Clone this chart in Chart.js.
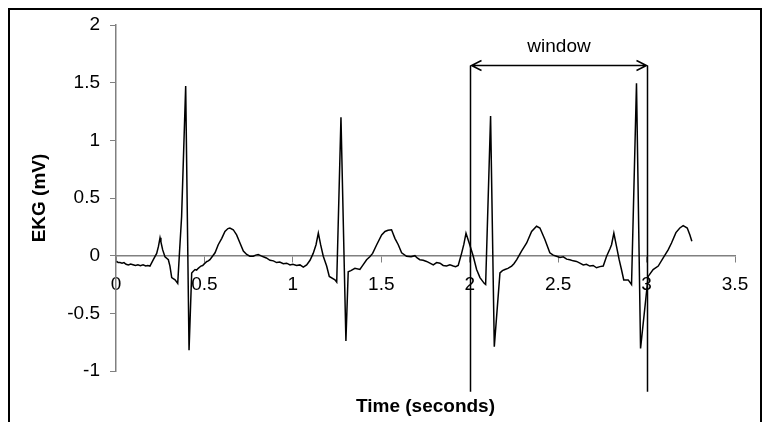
<!DOCTYPE html>
<html>
<head>
<meta charset="utf-8">
<script src="https://cdn.jsdelivr.net/npm/chart.js@4"></script>
<style>
  html, body { margin: 0; padding: 0; background: #fff; }
  #wrap { width: 763px; height: 422px; position: relative; }
</style>
</head>
<body>
<div id="wrap"><canvas id="ekgChart"></canvas></div>
<script>
// EKG trace, time in seconds / amplitude in mV (one line per segment of the beat)
const timeSec = [
  0.004, 0.012, 0.023, 0.034, 0.045, 0.057, 0.07, 0.083, 0.096, 0.11, 0.124, 0.138, 0.153, 0.168, 0.18, 0.192,
  0.211, 0.23, 0.24, 0.249, 0.254, 0.264, 0.277, 0.296, 0.305, 0.315, 0.334, 0.349, 0.358, 0.371, 0.394, 0.413,
  0.428, 0.437, 0.447, 0.456, 0.465, 0.472, 0.48, 0.49, 0.503, 0.514, 0.522, 0.531, 0.56, 0.578, 0.598, 0.616, 0.633, 0.644, 0.663, 0.682, 0.701, 0.72, 0.739, 0.757, 0.776, 0.79,
  0.804, 0.818, 0.833, 0.85, 0.871, 0.89, 0.908, 0.926, 0.946, 0.965, 0.984, 1.0, 1.021, 1.04, 1.059,
  1.078, 1.097, 1.115, 1.131, 1.144, 1.157, 1.172, 1.191, 1.206, 1.238, 1.248, 1.272, 1.3,
  1.313, 1.328, 1.351, 1.379, 1.397, 1.417, 1.435, 1.451, 1.474, 1.502, 1.521, 1.538, 1.558, 1.577, 1.596, 1.615, 1.643, 1.668,
  1.69, 1.703, 1.718, 1.737, 1.756, 1.775, 1.794, 1.813, 1.832, 1.85, 1.869, 1.888, 1.907, 1.92, 1.935,
  1.954, 1.967, 1.979, 1.997, 2.02, 2.039, 2.058, 2.082, 2.09, 2.118, 2.139,
  2.171, 2.185, 2.199, 2.216, 2.237, 2.25, 2.266, 2.293, 2.322, 2.35, 2.378, 2.397, 2.425, 2.453, 2.472,
  2.491, 2.51, 2.529, 2.548, 2.566, 2.585, 2.604, 2.623, 2.642, 2.66, 2.679, 2.698, 2.717, 2.736, 2.755,
  2.774, 2.793, 2.802, 2.815, 2.83, 2.845, 2.858, 2.871, 2.896, 2.915, 2.943, 2.966,
  3.009, 3.037, 3.066, 3.094, 3.122, 3.141, 3.166, 3.188, 3.207, 3.23, 3.245, 3.256
];
const ekgMv = [
  -0.05, -0.06, -0.06, -0.065, -0.06, -0.075, -0.08, -0.072, -0.078, -0.085, -0.08, -0.088, -0.08, -0.09, -0.085, -0.09,
  -0.035, 0.02, 0.08, 0.155, 0.12, 0.05, -0.01, -0.035, -0.09, -0.19, -0.21, -0.24, 0, 0.34, 1.47, -0.82,
  -0.15, -0.135, -0.12, -0.125, -0.11, -0.1, -0.09, -0.085, -0.065, -0.05, -0.045, -0.035, 0.025, 0.095, 0.15, 0.21, 0.235, 0.24, 0.225, 0.18, 0.11, 0.04, 0.01, -0.005, -0.005, 0.005,
  0.01, 0, -0.01, -0.02, -0.04, -0.045, -0.06, -0.055, -0.07, -0.065, -0.08, -0.075, -0.085, -0.08, -0.1,
  -0.08, -0.04, 0.02, 0.095, 0.195, 0.095, -0.005, -0.09, -0.18, -0.21, -0.23, 1.2, -0.74,
  -0.14, -0.13, -0.11, -0.12, -0.08, -0.035, -0.01, 0.02, 0.095, 0.18, 0.21, 0.22, 0.225, 0.15, 0.095, 0.025, -0.005, -0.01,
  0, -0.02, -0.035, -0.04, -0.05, -0.065, -0.08, -0.06, -0.065, -0.085, -0.09, -0.08, -0.09, -0.095, -0.085,
  0.02, 0.1, 0.195, 0.11, -0.005, -0.12, -0.19, -0.24, -0.25, 1.21, -0.79,
  -0.15, -0.13, -0.12, -0.11, -0.09, -0.07, -0.035, 0.04, 0.11, 0.21, 0.255, 0.24, 0.14, 0.025, 0.005,
  -0.005, -0.015, -0.01, -0.03, -0.035, -0.045, -0.05, -0.065, -0.08, -0.075, -0.09, -0.085, -0.105, -0.095, -0.09,
  -0.005, 0.06, 0.095, 0.195, 0.08, -0.035, -0.12, -0.21, -0.21, -0.25, 1.495, -0.805,
  -0.18, -0.12, -0.09, -0.02, 0.05, 0.11, 0.2, 0.24, 0.26, 0.24, 0.18, 0.125
];

const xTicks = [0, 0.5, 1, 1.5, 2, 2.5, 3, 3.5];
const yTicks = [-1, -0.5, 0, 0.5, 1, 1.5, 2];

// analysis window (seconds) and the extent of its marker lines (mV)
const windowRange = [2, 3];
const windowLineRange = [-1.18, 1.65];
const windowLabel = 'window';

const fontFamily = '"Liberation Sans", Arial, sans-serif';
const axisGray = '#808080';

const points = timeSec.map((t, i) => ({ x: t, y: ekgMv[i] }));

// frame, window markers and axis titles
const overlay = {
  id: 'overlay',
  afterDraw(chart) {
    const { ctx, chartArea, scales } = chart;
    const xs = scales.x, ys = scales.y;
    ctx.save();

    // outer frame
    ctx.strokeStyle = '#000';
    ctx.lineWidth = 2;
    ctx.strokeRect(9, 9, 752, 440);

    // window marker lines
    const xa = Math.round(xs.getPixelForValue(windowRange[0])) + 0.5;
    const xb = Math.round(xs.getPixelForValue(windowRange[1])) + 0.5;
    const yTop = Math.round(ys.getPixelForValue(windowLineRange[1])) + 0.5;
    const yBot = ys.getPixelForValue(windowLineRange[0]);
    ctx.lineWidth = 1.5;
    ctx.beginPath();
    ctx.moveTo(xa, yTop); ctx.lineTo(xa, yBot);
    ctx.moveTo(xb, yTop); ctx.lineTo(xb, yBot);
    ctx.stroke();

    // double-headed arrow
    ctx.beginPath();
    ctx.moveTo(xa + 1, yTop); ctx.lineTo(xb - 1, yTop);
    ctx.moveTo(xa + 11, yTop - 5); ctx.lineTo(xa + 1, yTop); ctx.lineTo(xa + 11, yTop + 5);
    ctx.moveTo(xb - 11, yTop - 5); ctx.lineTo(xb - 1, yTop); ctx.lineTo(xb - 11, yTop + 5);
    ctx.stroke();

    ctx.fillStyle = '#000';
    ctx.font = '19px ' + fontFamily;
    ctx.textAlign = 'center';
    ctx.textBaseline = 'middle';
    ctx.fillText(windowLabel, (xa + xb) / 2, yTop - 19);

    // axis titles
    ctx.font = 'bold 19px ' + fontFamily;
    ctx.fillText('Time (seconds)', (chartArea.left + chartArea.right) / 2, 407);
    ctx.translate(40, (chartArea.top + chartArea.bottom) / 2);
    ctx.rotate(-Math.PI / 2);
    ctx.fillText('EKG (mV)', 0, 0);
    ctx.restore();
  }
};

new Chart(document.getElementById('ekgChart'), {
  type: 'line',
  data: {
    datasets: [{
      data: points,
      borderColor: '#000',
      borderWidth: 1.5,
      pointRadius: 0,
      tension: 0,
      fill: false
    }]
  },
  options: {
    responsive: true,
    maintainAspectRatio: false,
    animation: false,
    layout: { padding: { top: 25, right: 28, bottom: 51, left: 0 } },
    plugins: {
      legend: { display: false },
      tooltip: { enabled: false }
    },
    scales: {
      x: {
        type: 'linear',
        position: { y: 0 },
        min: 0,
        max: 3.5,
        afterBuildTicks: s => { s.ticks = xTicks.map(v => ({ value: v })); },
        grid: { drawOnChartArea: false, drawTicks: true, tickLength: 6, tickColor: axisGray },
        border: { display: true, color: axisGray, width: 1.5 },
        ticks: {
          color: '#000',
          padding: 12,
          maxRotation: 0,
          autoSkip: false,
          font: { family: fontFamily, size: 19 },
          callback: v => String(v)
        }
      },
      y: {
        type: 'linear',
        min: -1,
        max: 2,
        afterBuildTicks: s => { s.ticks = yTicks.map(v => ({ value: v })); },
        afterFit: s => { s.width = 116; },
        grid: { drawOnChartArea: false, drawTicks: true, tickLength: 6, tickColor: axisGray },
        border: { display: true, color: axisGray, width: 1.5 },
        ticks: {
          color: '#000',
          padding: 10,
          font: { family: fontFamily, size: 19 },
          callback: v => String(v)
        }
      }
    }
  },
  plugins: [overlay]
});
</script>
</body>
</html>
